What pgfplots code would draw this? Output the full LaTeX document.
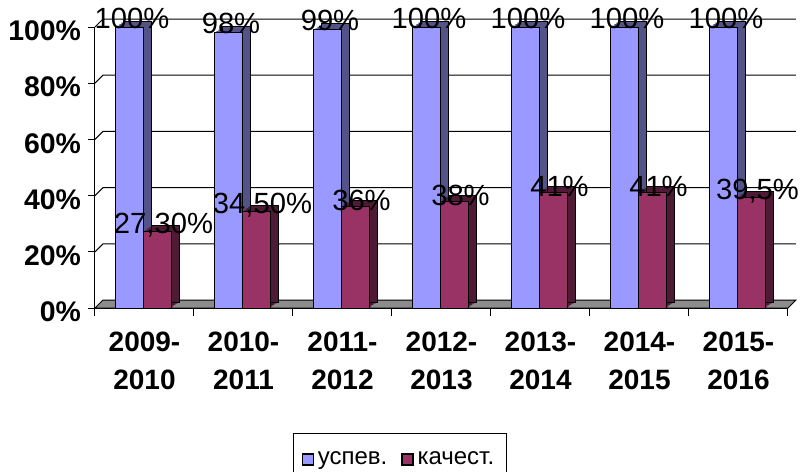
\documentclass[border=0pt]{standalone}
\usepackage{pgfplots}
\pgfplotsset{compat=1.18}
\usepackage{pgfplotstable}
\usepackage{fontspec}
\setmainfont{Liberation Sans}

\definecolor{uspev}{HTML}{9999FF}
\definecolor{uspevside}{HTML}{535388}
\definecolor{kach}{HTML}{993366}
\definecolor{kachside}{HTML}{4F1A35}
\definecolor{floorgray}{HTML}{8C8C8C}

\pgfplotstableread{
x u k ul kl
0 100 27.3 {100\%} {27,30\%}
1 98 34.5 {98\%} {34,50\%}
2 99 36 {99\%} {36\%}
3 100 38 {100\%} {38\%}
4 100 41 {100\%} {41\%}
5 100 41 {100\%} {41\%}
6 100 39.5 {100\%} {39,5\%}
}\data

\pgfplotsset{
  boxlegend/.style={legend image code/.code={
    \draw[##1,draw=black,line width=0.6pt] (0pt,-2.75pt) rectangle (5.5pt,2.75pt);}},
}

\begin{document}
\begin{tikzpicture}
\begin{axis}[
  scale only axis, width=346.5pt, height=140.5pt,
  xmin=-0.5, xmax=6.5, ymin=0, ymax=100,
  clip=false,
  axis x line*=bottom, axis y line*=left,
  axis line style={black, line width=0.5pt},
  xtick={0,...,6},
  xticklabels={{2009-\\2010},{2010-\\2011},{2011-\\2012},{2012-\\2013},{2013-\\2014},{2014-\\2015},{2015-\\2016}},
  major x tick style={draw=none},
  extra x ticks={-0.5,0.5,...,6.5}, extra x tick labels={},
  extra x tick style={major x tick style={draw=black, line width=0.5pt}, major tick length=4pt},
  ytick={0,20,...,100},
  yticklabels={0\%,20\%,40\%,60\%,80\%,100\%},
  major y tick style={draw=black, line width=0.5pt},
  tick align=outside, major tick length=3.5pt,
  xticklabel style={align=center, font=\fontsize{14}{19}\selectfont\bfseries, yshift=-5pt},
  yticklabel style={font=\fontsize{14.2}{17}\selectfont\bfseries, yshift=-2pt},
  legend columns=2,
  legend style={at={(0.44,-0.445)}, anchor=north, draw=black, line width=0.5pt,
    font=\fontsize{12}{14}\selectfont, inner xsep=4pt, inner ysep=7pt,
    /tikz/every even column/.append style={column sep=5pt}},
]

% floor and back wall grid
\filldraw[fill=floorgray, draw=black, line width=0.5pt]
  (axis cs:-0.5,0) -- ([xshift=4pt,yshift=4pt]axis cs:-0.5,0)
  -- ([xshift=4pt,yshift=4pt]axis cs:6.5,0) -- (axis cs:6.5,0) -- cycle;
\pgfplotsinvokeforeach{20,40,60,80,100}{
  \draw[black, line width=0.5pt] (axis cs:-0.5,#1) -- ([xshift=4pt,yshift=4pt]axis cs:-0.5,#1)
    -- ([xshift=4pt,yshift=4pt]axis cs:6.5,#1);
}

% успев.
\addplot[ybar, bar width=14pt, bar shift=-6.5pt, yshift=0.75pt, fill=uspevside, draw=none, forget plot] table[x=x,y=u]{\data};
\addplot[ybar, bar width=14pt, bar shift=-5.5pt, yshift=1.5pt, fill=uspevside, draw=none, forget plot] table[x=x,y=u]{\data};
\addplot[ybar, bar width=14pt, bar shift=-4.5pt, yshift=2.25pt, fill=uspevside, draw=none, forget plot] table[x=x,y=u]{\data};
\addplot[ybar, bar width=14pt, bar shift=-3.5pt, yshift=3pt, fill=uspevside, draw=black, line width=0.5pt, forget plot] table[x=x,y=u]{\data};
\addplot[ybar, boxlegend, bar width=14pt, bar shift=-7.5pt, fill=uspev, draw=black, line width=0.5pt,
  nodes near coords, point meta=explicit symbolic,
  nodes near coords style={font=\fontsize{14.6}{16}\selectfont, anchor=center, xshift=-6.25pt, yshift=4.5pt, text=black}]
  table[x=x,y=u,meta=ul]{\data};

% качест.
\addplot[ybar, bar width=14pt, bar shift=7.5pt, yshift=0.75pt, fill=kachside, draw=none, forget plot] table[x=x,y=k]{\data};
\addplot[ybar, bar width=14pt, bar shift=8.5pt, yshift=1.5pt, fill=kachside, draw=none, forget plot] table[x=x,y=k]{\data};
\addplot[ybar, bar width=14pt, bar shift=9.5pt, yshift=2.25pt, fill=kachside, draw=none, forget plot] table[x=x,y=k]{\data};
\addplot[ybar, bar width=14pt, bar shift=10.5pt, yshift=3pt, fill=kachside, draw=black, line width=0.5pt, forget plot] table[x=x,y=k]{\data};
\addplot[ybar, boxlegend, bar width=14pt, bar shift=6.5pt, fill=kach, draw=black, line width=0.5pt,
  nodes near coords, point meta=explicit symbolic,
  nodes near coords style={font=\fontsize{14.6}{16}\selectfont, anchor=center, xshift=9.5pt, yshift=3pt, text=black}]
  table[x=x,y=k,meta=kl]{\data};

\legend{успев., качест.}
\end{axis}
\pgfresetboundingbox
\path[use as bounding box] (-47.5pt,-82pt) rectangle (352.5pt,154pt);
\end{tikzpicture}
\end{document}
